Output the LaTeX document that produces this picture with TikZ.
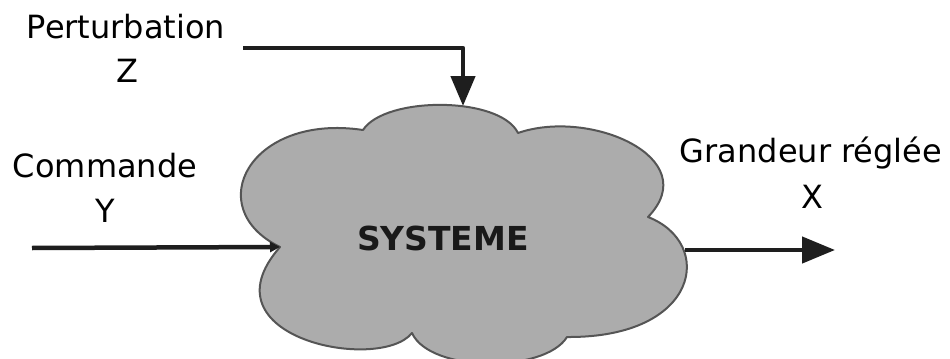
\documentclass[tikz,border=0pt]{standalone}
\usepackage{fontspec}
\setmainfont{DejaVu Sans}
\usetikzlibrary{arrows.meta}
\definecolor{CloudGray}{RGB}{172,172,172}
\definecolor{CloudEdge}{RGB}{85,85,85}
\definecolor{WireDark}{RGB}{30,30,30}

\begin{document}
\begin{tikzpicture}[x=1bp,y=1bp,line cap=round,line join=round]
  \path[use as bounding box] (0,0) rectangle (950,358);
  \fill[white] (0,0) rectangle (950,358);

  \tikzset{
    signaltext/.style={anchor=base,inner sep=0pt,text=black,
      font=\fontsize{32bp}{32bp}\selectfont},
    systext/.style={anchor=base,inner sep=0pt,text=black!90,
      font=\fontsize{33bp}{33bp}\selectfont\bfseries},
    wire/.style={line width=4.5bp,draw=WireDark,line cap=butt},
  }

  % Cloud (system)
  \coordinate (valleyW) at (280,111);
  \coordinate (valleyNW) at (363,228);
  \coordinate (valleyNE) at (518,225);
  \coordinate (valleyE) at (648,141);
  \coordinate (valleySE) at (567,21);
  \coordinate (valleySW) at (412,25);
  \draw[line width=2bp,draw=CloudEdge,fill=CloudGray]
    (valleyW) .. controls (200,150) and (250,245) .. (valleyNW)
    .. controls (385,262) and (500,262) .. (valleyNE)
    .. controls (590,250) and (705,200) .. (valleyE)
    .. controls (715,115) and (700,20) .. (valleySE)
    .. controls (545,-15) and (430,-15) .. (valleySW)
    .. controls (380,-15) and (200,20) .. (valleyW) -- cycle;
  \node[systext] (sys) at (443,108) {SYSTEME};

  % Labels
  \node[signaltext] (pertname) at (126,320) {Perturbation};
  \node[signaltext] (pertsym) at (127,276) {Z};
  \node[signaltext] (cmdname) at (105,181) {Commande};
  \node[signaltext] (cmdsym) at (105,136) {Y};
  \node[signaltext] (outname) at (811,196) {Grandeur réglée};
  \node[signaltext] (outsym) at (812,150) {X};

  % Input
  \coordinate (inStart) at (32,110);
  \draw[wire,-{Triangle[length=10bp,width=10bp]}] (inStart) -- (valleyW);

  % Output
  \coordinate (outStart) at (685,108);
  \coordinate (outEnd) at (835,108);
  \draw[wire,-{Triangle[length=33bp,width=26bp]}] (outStart) -- (outEnd);

  % Disturbance
  \coordinate (pertStart) at (243,310);
  \coordinate (cloudTop) at (463,252);
  \draw[wire,-{Triangle[length=30bp,width=24bp]}] (pertStart) -| (cloudTop);

\end{tikzpicture}
\end{document}
